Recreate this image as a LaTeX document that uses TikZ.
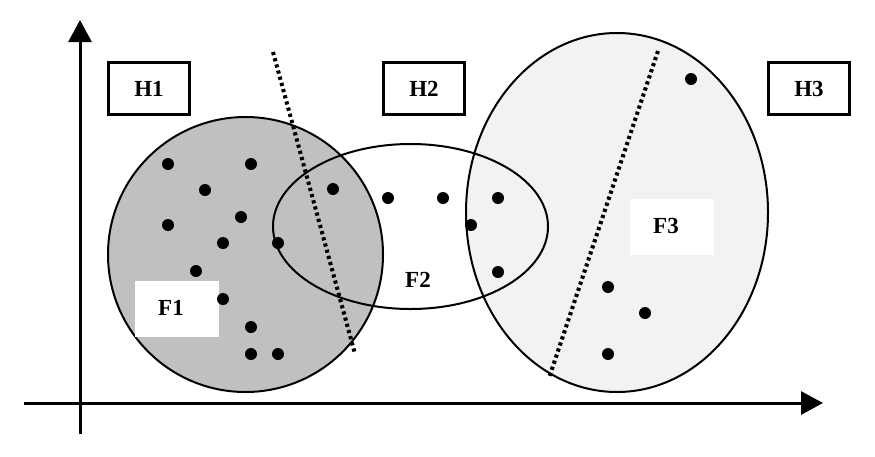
\documentclass[tikz,border=0pt]{standalone}
\usepackage{fontspec}
\setmainfont{Liberation Serif}
\usetikzlibrary{arrows.meta}
\begin{document}
\begin{tikzpicture}[x=1pt,y=-1pt,
  lbl/.style={inner sep=0pt,font=\bfseries\fontsize{23}{26}\selectfont},
  hbox/.style={draw=black,line width=3.2pt,minimum width=81pt,minimum height=52pt,inner sep=0pt,font=\bfseries\fontsize{23}{26}\selectfont},
  fbox/.style={fill=white,minimum width=84pt,minimum height=56pt,inner sep=0pt},
  pt/.style={fill=black},
  sep/.style={line width=4pt,dash pattern=on 3.2pt off 3.2pt},
  axis/.style={line width=3pt,-{Triangle[length=22pt,width=23pt]}}]
\useasboundingbox (0,0) rectangle (875,456);
% fills
\fill[fill={rgb,255:red,242;green,242;blue,242}] (617,212.5) ellipse [x radius=151pt, y radius=179.5pt];
\fill[fill={rgb,255:red,192;green,192;blue,192}] (245.5,254.5) ellipse [x radius=137.5pt, y radius=137.5pt];
% outlines
\draw[line width=2pt] (617,212.5) ellipse [x radius=151pt, y radius=179.5pt];
\draw[line width=2pt] (245.5,254.5) ellipse [x radius=137.5pt, y radius=137.5pt];
\draw[line width=2pt] (410.5,226.5) ellipse [x radius=137.5pt, y radius=82.5pt];
% labels
\node[fbox] (f1box) at (177,309) {};
\node[lbl] (f1) at (171,308) {F1};
\node[fbox] (f3box) at (672,227) {};
\node[lbl] (f3) at (666,226) {F3};
\node[lbl] (f2) at (418,280) {F2};
% separators
\coordinate (s1a) at (273,52);
\coordinate (s1b) at (355,354);
\coordinate (s2a) at (658,51);
\coordinate (s2b) at (549,378);
\draw[sep] (s1a) -- (s1b);
\draw[sep] (s2a) -- (s2b);
% points
\foreach \x/\y [count=\i] in {168/164,251/164,205/190,241/217,168/225,223/243,278/243,196/271,223/299,251/327,251/354,278/354,333/189,388/198,443/198,498/198,471/225,498/272,691/79,608/287,645/313,608/354}
  \fill[pt] (\x,\y) circle [radius=6pt] coordinate (p\i);
% boxes
\node[hbox] (h1) at (149,88.5) {H1};
\node[hbox] (h2) at (424,88.5) {H2};
\node[hbox] (h3) at (809,88.5) {H3};
% axes
\coordinate (o1) at (80,434);
\coordinate (yt) at (80,20);
\coordinate (o2) at (24,403);
\coordinate (xt) at (823,403);
\draw[axis] (o1) -- (yt);
\draw[axis] (o2) -- (xt);
\end{tikzpicture}
\end{document}
